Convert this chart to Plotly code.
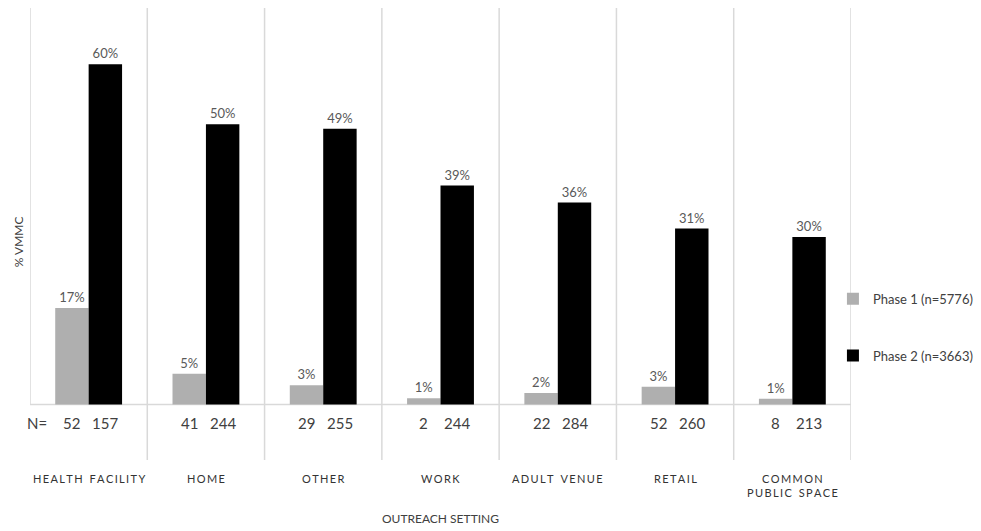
import plotly.graph_objects as go

categories = ["HEALTH FACILITY", "HOME", "OTHER", "WORK", "ADULT VENUE", "RETAIL", "COMMON<br>PUBLIC SPACE"]
phase1_pct = [17, 5.4, 3.4, 1.1, 2.0, 3.1, 1.0]
phase2_pct = [60, 49.4, 48.6, 38.6, 35.6, 31, 29.5]
phase1_labels = ["17%", "5%", "3%", "1%", "2%", "3%", "1%"]
phase2_labels = ["60%", "50%", "49%", "39%", "36%", "31%", "30%"]
phase1_n = [52, 41, 29, 2, 22, 52, 8]
phase2_n = [157, 244, 255, 244, 284, 260, 213]
series_names = ["Phase 1 (n=5776)", "Phase 2 (n=3663)"]

FONT = "Lato, 'Open Sans', sans-serif"
TXT = "#404040"
GRID = "#d9d9d9"
BARGAP = 0.43
Y_MIN, Y_MAX = -9.8, 69.9
N_ROW_Y = -3.3

xs = list(range(len(categories)))
fig = go.Figure()
fig.add_trace(go.Bar(x=xs, y=phase1_pct, name=series_names[0], marker_color="#afafaf",
                     marker_line_width=0, text=phase1_labels, textposition="outside",
                     textfont=dict(color="#595959", size=13, family=FONT), cliponaxis=False,
                     legendgroup="a"))
fig.add_trace(go.Bar(x=xs, y=phase2_pct, name=series_names[1], marker_color="#000000",
                     marker_line_width=0, text=phase2_labels, textposition="outside",
                     textfont=dict(color="#595959", size=13, family=FONT), cliponaxis=False,
                     legendgroup="b"))

shapes = []
n = len(categories)
for i in range(n + 1):
    b = i - 0.5
    if i == 0:
        shapes.append(dict(type="line", xref="x", yref="y", x0=b, x1=b, y0=0, y1=Y_MAX,
                           line=dict(color=GRID, width=1.5), layer="below"))
    else:
        shapes.append(dict(type="line", xref="x", yref="paper", x0=b, x1=b, y0=0, y1=1,
                           line=dict(color=GRID, width=1.5), layer="below"))
shapes.append(dict(type="line", xref="x", yref="y", x0=-0.5, x1=n - 0.5, y0=0, y1=0,
                   line=dict(color=GRID, width=1.5), layer="below"))

half = (1 - BARGAP) / 4
annotations = [dict(x=-0.5, y=N_ROW_Y, xref="x", yref="y", text="N=", showarrow=False,
                    xanchor="left", xshift=-5, font=dict(size=15, color=TXT, family=FONT))]
for i in xs:
    annotations.append(dict(x=i - half, y=N_ROW_Y, xref="x", yref="y", text=str(phase1_n[i]),
                            showarrow=False, font=dict(size=15, color=TXT, family=FONT)))
    annotations.append(dict(x=i + half, y=N_ROW_Y, xref="x", yref="y", text=str(phase2_n[i]),
                            showarrow=False, font=dict(size=15, color=TXT, family=FONT)))


def spaced(s):
    return "<br>".join("\u2009".join(line.replace(" ", "\u2009\u2009")) for line in s.split("<br>"))


for i, c in enumerate(categories):
    annotations.append(dict(x=i, y=-0.022, xref="x", yref="paper", text=spaced(c), showarrow=False,
                            yanchor="top", font=dict(size=11, color="#333333", family=FONT)))

annotations.append(dict(x=-0.0146, y=0.482, xref="paper", yref="paper", text="% VMMC",
                        xanchor="center", yanchor="middle", textangle=-90, showarrow=False,
                        font=dict(size=12, color=TXT, family=FONT)))

fig.update_layout(
    width=981, height=531,
    margin=dict(l=30, r=130, t=8, b=71, autoexpand=False),
    paper_bgcolor="white", plot_bgcolor="white",
    barmode="group", bargap=BARGAP, bargroupgap=0,
    font=dict(family=FONT, color=TXT),
    xaxis=dict(range=[-0.5, n - 0.5], showticklabels=False, showgrid=False, zeroline=False,
               showline=False, ticks="",
               title=dict(text="OUTREACH SETTING", font=dict(size=12, color=TXT), standoff=54)),
    yaxis=dict(range=[Y_MIN, Y_MAX], showticklabels=False, showgrid=False, zeroline=False,
               showline=False, ticks=""),
    legend=dict(x=0.978, y=0.39, xanchor="left", yanchor="top", tracegroupgap=37,
                font=dict(size=13, color=TXT, family=FONT), itemwidth=30,
                bgcolor="rgba(0,0,0,0)"),
    shapes=shapes, annotations=annotations,
)
fig.write_html("out.html")
